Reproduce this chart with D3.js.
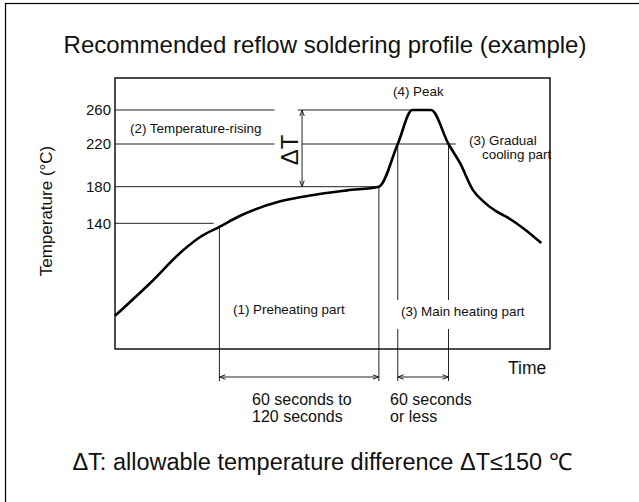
<!DOCTYPE html>
<html>
<head>
<meta charset="utf-8">
<script src="https://cdn.jsdelivr.net/npm/d3@7"></script>
<style>
body { margin: 0; background: #fff; }
text { font-family: "Liberation Sans", Arial, sans-serif; fill: #111; }
</style>
</head>
<body>
<div id="chart"></div>
<script>
// schematic profile, time in arbitrary units, temperature in degC
const profileTime = [0, 24, 47, 59, 72, 86, 114, 137, 160, 182, 195, 205, 218, 230, 238, 247, 254, 263, 270, 282, 294];
const profileTemp = [37, 73, 110, 125, 136, 148, 164, 171, 176, 180, 220, 260, 260, 220, 202, 176, 164, 153, 147, 134, 118];

const tempTicks = [140, 180, 220, 260];

// horizontal guide segments: level, start time, end time
const guideLevels = [260, 260, 220, 220, 180, 140];
const guideFrom   = [0, 126, 0, 129, 0, 0];
const guideTo     = [110, 205, 110, 235, 182, 68];

// vertical markers dropping from the profile
const markerTime = [72, 182, 195, 230];
const markerTemp = [136, 180, 220, 220];
const markerGap  = [false, false, true, true];

// dimension spans below the time axis
const spanFrom = [72, 195];
const spanTo   = [182, 230];
const spanText = [["60 seconds to", "120 seconds"], ["60 seconds", "or less"]];

const deltaTime = 129;
const deltaRange = [180, 260];

const W = 639, H = 502;
const plot = { left: 115, right: 550, top: 78, bottom: 349 };

const svg = d3.select('#chart').append('svg')
    .attr('width', W)
    .attr('height', H);

svg.append('rect')
    .attr('x', 5.5).attr('y', 3.5)
    .attr('width', 700).attr('height', 600)
    .attr('fill', 'none')
    .attr('stroke', '#000')
    .attr('stroke-width', 1.2);

const x = d3.scaleLinear().domain([0, 300]).range([plot.left, plot.right]);
// the drawing is schematic, the temperature axis is not evenly spaced
const y = d3.scaleLinear()
    .domain([0, 140, 180, 220, 260, 300])
    .range([plot.bottom, 223.3, 186.7, 144, 110, plot.top]);

// title
svg.append('text')
    .attr('x', 325).attr('y', 53)
    .attr('text-anchor', 'middle')
    .style('font-size', '24px')
    .text('Recommended reflow soldering profile (example)');

// guides
svg.append('g')
    .selectAll('line')
    .data(guideLevels)
    .enter()
    .append('line')
    .attr('x1', (d, i) => x(guideFrom[i]))
    .attr('x2', (d, i) => x(guideTo[i]))
    .attr('y1', d => y(d))
    .attr('y2', d => y(d))
    .attr('stroke', '#222')
    .attr('stroke-width', 1);

// vertical markers
const dimY = plot.bottom + 28;
const gapTop = 300, gapBottom = 329;
markerTime.forEach((t, i) => {
    const segs = markerGap[i]
        ? [[y(markerTemp[i]), gapTop], [gapBottom, dimY + 4]]
        : [[y(markerTemp[i]), dimY + 4]];
    segs.forEach(s => {
        svg.append('line')
            .attr('x1', x(t)).attr('x2', x(t))
            .attr('y1', s[0]).attr('y2', s[1])
            .attr('stroke', '#222')
            .attr('stroke-width', 1);
    });
});

function arrowHead(px, py, dir) {
    // dir: 'l', 'r', 'u', 'd'
    const a = 6, b = 2.2;
    let p;
    if (dir === 'l') p = [[px + a, py - b], [px, py], [px + a, py + b]];
    if (dir === 'r') p = [[px - a, py - b], [px, py], [px - a, py + b]];
    if (dir === 'u') p = [[px - b, py + a], [px, py], [px + b, py + a]];
    if (dir === 'd') p = [[px - b, py - a], [px, py], [px + b, py - a]];
    svg.append('path')
        .attr('d', d3.line()(p))
        .attr('fill', 'none')
        .attr('stroke', '#222')
        .attr('stroke-width', 1);
}

// dimension spans
spanFrom.forEach((f, i) => {
    const x1 = x(f), x2 = x(spanTo[i]);
    svg.append('line')
        .attr('x1', x1).attr('x2', x2)
        .attr('y1', dimY).attr('y2', dimY)
        .attr('stroke', '#222')
        .attr('stroke-width', 1);
    arrowHead(x1, dimY, 'l');
    arrowHead(x2, dimY, 'r');
});

// delta T arrow
svg.append('line')
    .attr('x1', x(deltaTime)).attr('x2', x(deltaTime))
    .attr('y1', y(deltaRange[1])).attr('y2', y(deltaRange[0]))
    .attr('stroke', '#222')
    .attr('stroke-width', 1);
arrowHead(x(deltaTime), y(deltaRange[1]), 'u');
arrowHead(x(deltaTime), y(deltaRange[0]), 'd');

svg.append('text')
    .attr('transform', `translate(${x(deltaTime) - 4},150) rotate(-90)`)
    .attr('text-anchor', 'middle')
    .style('font-size', '24px')
    .text('\u0394T');

// plot frame
svg.append('rect')
    .attr('x', plot.left).attr('y', plot.top)
    .attr('width', plot.right - plot.left)
    .attr('height', plot.bottom - plot.top)
    .attr('fill', 'none')
    .attr('stroke', '#000')
    .attr('stroke-width', 1.4);

// y axis labels
const yAxis = svg.append('g')
    .attr('transform', `translate(${plot.left},0)`)
    .call(d3.axisLeft(y).tickValues(tempTicks).tickSize(0).tickPadding(4));
yAxis.select('.domain').remove();
yAxis.selectAll('text')
    .style('font-size', '15px')
    .style('font-family', '"Liberation Sans", Arial, sans-serif')
    .attr('fill', '#111');

svg.append('text')
    .attr('transform', 'translate(52,211) rotate(-90)')
    .attr('text-anchor', 'middle')
    .style('font-size', '17px')
    .text('Temperature (\u00B0C)');

// profile curve
const line = d3.line()
    .x(d => x(d[0]))
    .y(d => y(d[1]))
    .curve(d3.curveMonotoneX);

svg.append('path')
    .datum(profileTime.map((t, i) => [t, profileTemp[i]]))
    .attr('d', line)
    .attr('fill', 'none')
    .attr('stroke', '#000')
    .attr('stroke-width', 2.6)
    .attr('stroke-linejoin', 'round');

// labels
const labels = [
    { t: '(2) Temperature-rising', x: 130, y: 133, size: 13.4 },
    { t: '(4) Peak', x: 393, y: 96, size: 13.4 },
    { t: '(3) Gradual', x: 469, y: 145, size: 13.4 },
    { t: 'cooling part', x: 482, y: 159, size: 13.4 },
    { t: '(1) Preheating part', x: 233, y: 314, size: 13.4 },
    { t: '(3) Main heating part', x: 401, y: 316, size: 13.4 },
    { t: 'Time', x: 508, y: 374, size: 17.5 }
];
svg.append('g')
    .selectAll('text')
    .data(labels)
    .enter()
    .append('text')
    .attr('x', d => d.x)
    .attr('y', d => d.y)
    .style('font-size', d => d.size + 'px')
    .text(d => d.t);

// span captions
const spanTextX = [252, 390];
spanText.forEach((lines, i) => {
    lines.forEach((s, j) => {
        svg.append('text')
            .attr('x', spanTextX[i])
            .attr('y', 405 + j * 17)
            .style('font-size', '16px')
            .text(s);
    });
});

svg.append('text')
    .attr('x', 322).attr('y', 470)
    .attr('text-anchor', 'middle')
    .style('font-size', '23.5px')
    .text('\u0394T: allowable temperature difference \u0394T\u2264150 \u2103');
</script>
</body>
</html>
